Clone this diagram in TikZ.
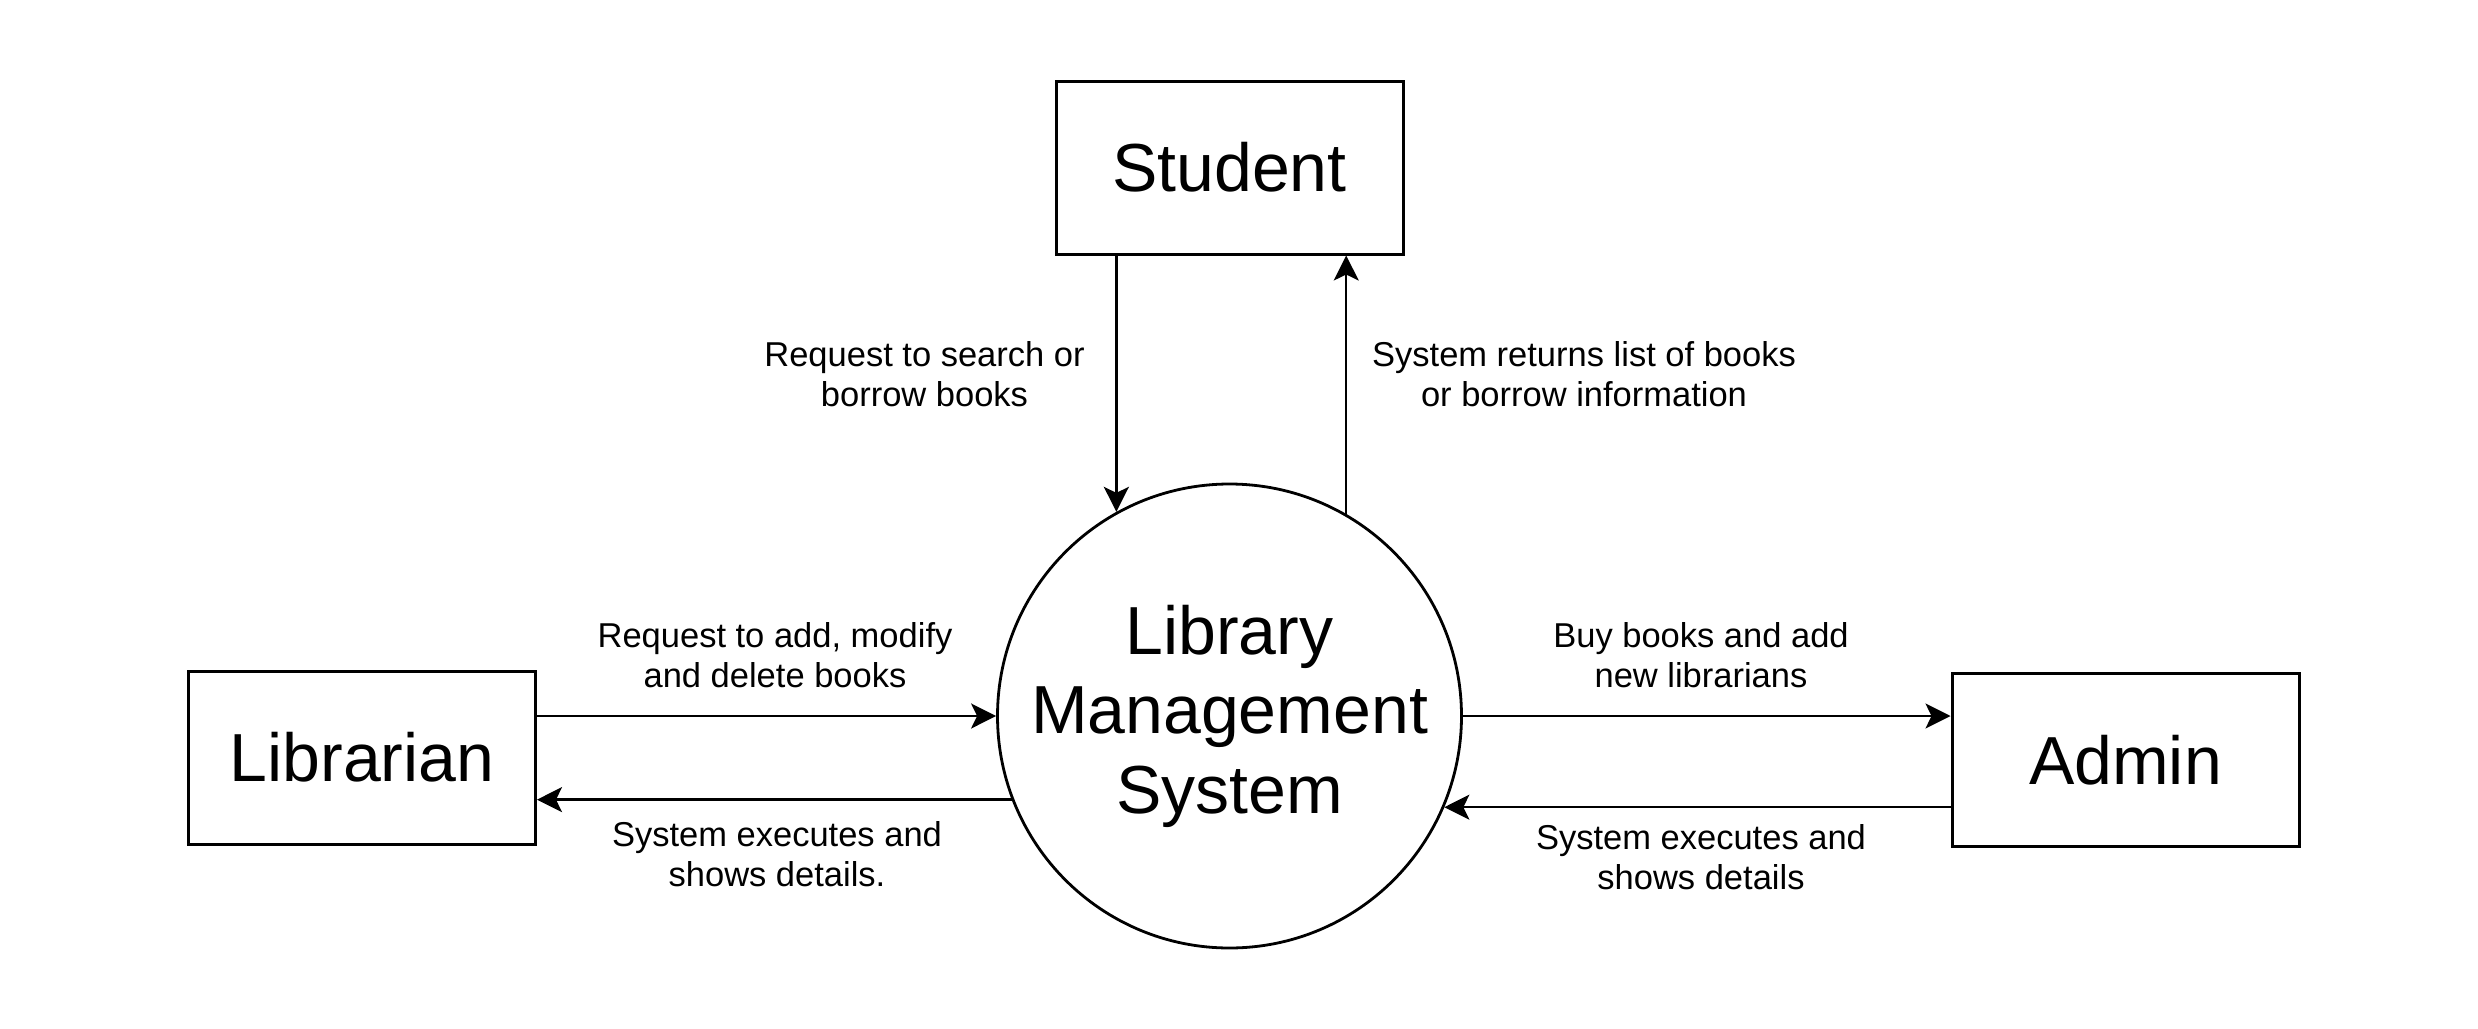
\documentclass[tikz,border=0pt]{standalone}
\usepackage{fontspec}
\setmainfont{Liberation Sans}
\usetikzlibrary{arrows.meta}
\begin{document}
\begin{tikzpicture}[x=0.5pt,y=-0.5pt,
  entity/.style={draw=black,line width=1.5pt,minimum width=173.5pt,minimum height=86.5pt,inner sep=0pt,font=\fontsize{34}{40}\selectfont},
  proc/.style={draw=black,circle,line width=1.4pt,minimum size=232pt,inner sep=0pt,align=center,font=\fontsize{34}{39.75}\selectfont},
  lbl/.style={align=center,inner sep=0pt,font=\fontsize{17.25}{20}\selectfont},
  arr/.style={line width=1.2pt,-{Stealth[length=12.5pt,width=12.5pt,inset=3pt]}}]
\fill[white] (0,0) rectangle (2478,1028);
\useasboundingbox (0,0) rectangle (2478,1028);
\node[entity] (stu) at (1229.5,167.5) {Student};
\node[entity] (lib) at (362,757.5) {Librarian};
\node[entity] (adm) at (2125.5,760) {Admin};
\node[proc] (lms) at (1229.5,716) {Library\\Management\\System};
% connectors
\draw[arr] (stu.south -| lms.119.6) -- (lms.119.6);
\draw[arr] (lms.60.1) -- (lms.60.1 |- stu.south);
\draw[arr] (lib.east |- lms.180) -- (lms.180);
\draw[arr] (lms.201.7) -- (lms.201.7 -| lib.east);
\draw[arr] (lms.0) -- (lms.0 -| adm.west);
\draw[arr] (adm.west |- lms.337.5) -- (lms.337.5);
% labels
\node[lbl] (l1) at (924.5,374) {Request to search or\\borrow books};
\node[lbl] (l2) at (1584,374) {System returns list of books\\or borrow information};
\node[lbl] (l3) at (775,655) {Request to add, modify\\and delete books};
\node[lbl] (l4) at (777,854.5) {System executes and\\shows details.};
\node[lbl] (l5) at (1701,655) {Buy books and add\\new librarians};
\node[lbl] (l6) at (1701,857) {System executes and\\shows details};
\end{tikzpicture}
\end{document}
